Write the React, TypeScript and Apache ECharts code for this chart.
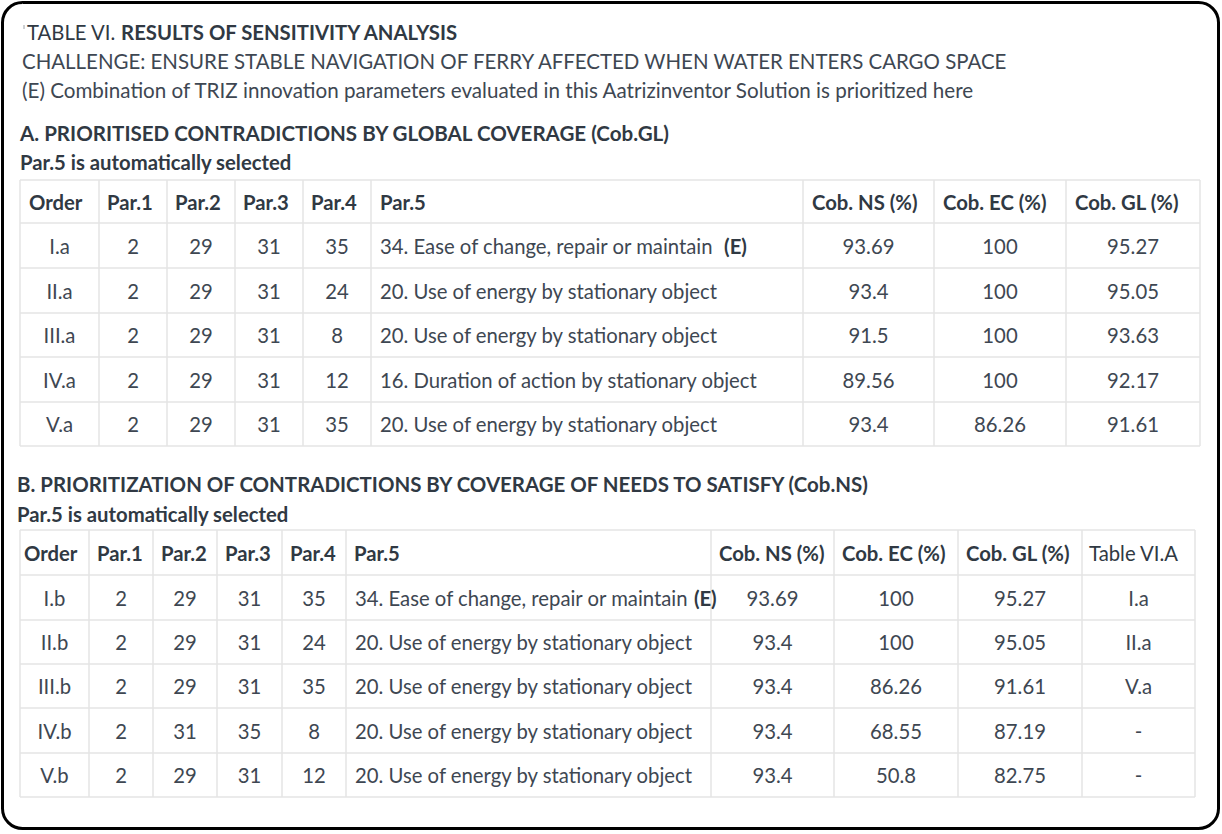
import React, { useEffect, useRef } from "react";
import * as echarts from "echarts";

// ---------- Texts ----------
const titleRegular = "TABLE VI. ";
const titleBold = "RESULTS OF SENSITIVITY ANALYSIS";
const challengeLine = "CHALLENGE: ENSURE STABLE NAVIGATION OF FERRY AFFECTED WHEN WATER ENTERS CARGO SPACE";
const noteLine = "(E) Combination of TRIZ innovation parameters evaluated in this Aatrizinventor Solution is prioritized here";
const sectionATitle = "A. PRIORITISED CONTRADICTIONS BY GLOBAL COVERAGE (Cob.GL)";
const sectionBTitle = "B. PRIORITIZATION OF CONTRADICTIONS BY COVERAGE OF NEEDS TO SATISFY (Cob.NS)";
const autoSelected = "Par.5 is automatically selected";

// ---------- Table A data ----------
const headersA = ["Order", "Par.1", "Par.2", "Par.3", "Par.4", "Par.5", "Cob. NS (%)", "Cob. EC (%)", "Cob. GL (%)"];
const orderA = ["I.a", "II.a", "III.a", "IV.a", "V.a"];
const par1A = ["2", "2", "2", "2", "2"];
const par2A = ["29", "29", "29", "29", "29"];
const par3A = ["31", "31", "31", "31", "31"];
const par4A = ["35", "24", "8", "12", "35"];
const par5A = [
  "34. Ease of change, repair or maintain",
  "20. Use of energy by stationary object",
  "20. Use of energy by stationary object",
  "16. Duration of action by stationary object",
  "20. Use of energy by stationary object",
];
const markA = [true, false, false, false, false];
const nsA = ["93.69", "93.4", "91.5", "89.56", "93.4"];
const ecA = ["100", "100", "100", "100", "86.26"];
const glA = ["95.27", "95.05", "93.63", "92.17", "91.61"];

// ---------- Table B data ----------
const headersB = ["Order", "Par.1", "Par.2", "Par.3", "Par.4", "Par.5", "Cob. NS (%)", "Cob. EC (%)", "Cob. GL (%)", "Table VI.A"];
const orderB = ["I.b", "II.b", "III.b", "IV.b", "V.b"];
const par1B = ["2", "2", "2", "2", "2"];
const par2B = ["29", "29", "29", "31", "29"];
const par3B = ["31", "31", "31", "35", "31"];
const par4B = ["35", "24", "35", "8", "12"];
const par5B = [
  "34. Ease of change, repair or maintain",
  "20. Use of energy by stationary object",
  "20. Use of energy by stationary object",
  "20. Use of energy by stationary object",
  "20. Use of energy by stationary object",
];
const markB = [true, false, false, false, false];
const nsB = ["93.69", "93.4", "93.4", "93.4", "93.4"];
const ecB = ["100", "100", "86.26", "68.55", "50.8"];
const glB = ["95.27", "95.05", "91.61", "87.19", "82.75"];
const refB = ["I.a", "II.a", "V.a", "-", "-"];

// ---------- Layout (styles only) ----------
const colEdgesA = [20, 99, 167, 235, 303, 371, 803, 934, 1066, 1200];
const rowEdgesA = [180, 223, 268, 313, 357, 402, 446];
const colEdgesB = [20, 89, 153, 217, 282, 346, 711, 834, 958, 1082, 1195];
const rowEdgesB = [530, 575, 620, 664, 708, 753, 797];

const FONT = "Lato, 'Noto Sans', sans-serif";
const FS = 20.3;
const TXT = "#3e4752";
const BOLD = "#303943";
const GRID = "#e4e4e4";

function buildTable(
  colEdges: number[],
  rowEdges: number[],
  headers: string[],
  columns: string[][],
  textCol: number,
  marks: boolean[],
  markGap: string,
  headerPads: number[],
  headerFonts: string[]
) {
  const els: any[] = [];
  const x0 = colEdges[0];
  const x1 = colEdges[colEdges.length - 1];
  const y0 = rowEdges[0];
  const y1 = rowEdges[rowEdges.length - 1];
  rowEdges.forEach((y) => {
    els.push({ type: "line", shape: { x1: x0, y1: y, x2: x1, y2: y }, style: { stroke: GRID, lineWidth: 1.5 }, silent: true });
  });
  colEdges.forEach((x) => {
    els.push({ type: "line", shape: { x1: x, y1: y0, x2: x, y2: y1 }, style: { stroke: GRID, lineWidth: 1.5 }, silent: true });
  });
  headers.forEach((h, i) => {
    const cy = (rowEdges[0] + rowEdges[1]) / 2;
    els.push({
      type: "text",
      x: colEdges[i] + headerPads[i],
      y: cy,
      style: { text: h, font: headerFonts[i], fill: BOLD, textAlign: "left", textVerticalAlign: "middle" },
    });
  });
  columns.forEach((col, ci) => {
    col.forEach((v, ri) => {
      const cy = (rowEdges[ri + 1] + rowEdges[ri + 2]) / 2;
      if (ci === textCol) {
        const isMarked = marks[ri];
        els.push({
          type: "text",
          x: colEdges[ci] + 9,
          y: cy,
          style: {
            text: isMarked ? v + markGap + "{b|(E)}" : v,
            font: `${FS}px ${FONT}`,
            fill: TXT,
            textAlign: "left",
            textVerticalAlign: "middle",
            rich: { b: { fontWeight: "bold", fontFamily: FONT, fontSize: FS, fill: BOLD, color: BOLD } },
          },
        });
      } else {
        els.push({
          type: "text",
          x: (colEdges[ci] + colEdges[ci + 1]) / 2,
          y: cy,
          style: { text: v, font: `${FS}px ${FONT}`, fill: TXT, textAlign: "center", textVerticalAlign: "middle" },
        });
      }
    });
  });
  return els;
}

export default function App() {
  const ref = useRef<HTMLDivElement>(null);
  useEffect(() => {
    if (!ref.current) return;
    const chart = echarts.init(ref.current, undefined, { renderer: "svg" });
    const elements: any[] = [];
    elements.push({
      type: "rect",
      shape: { x: 2.5, y: 2.5, width: 1216, height: 826, r: 20 },
      style: { fill: "#ffffff", stroke: "#000000", lineWidth: 3 },
      silent: true,
    });
    elements.push({ type: "line", shape: { x1: 24, y1: 25, x2: 24, y2: 29 }, style: { stroke: "#9aa0a6", lineWidth: 1 } });
    elements.push({
      type: "text",
      x: 27,
      y: 32,
      style: {
        text: titleRegular + "{b|" + titleBold + "}",
        font: `${FS}px ${FONT}`,
        fill: BOLD,
        textVerticalAlign: "middle",
        rich: { b: { fontWeight: "bold", fontSize: FS, fontFamily: FONT, fill: BOLD, color: BOLD } },
      },
    });
    elements.push({ type: "text", x: 22, y: 61, style: { text: challengeLine, font: `20.45px ${FONT}`, fill: TXT, textVerticalAlign: "middle" } });
    elements.push({ type: "text", x: 22, y: 90, style: { text: noteLine, font: `20.6px ${FONT}`, fill: TXT, textVerticalAlign: "middle" } });
    elements.push({ type: "text", x: 20, y: 133, style: { text: sectionATitle, font: `bold 20.55px ${FONT}`, fill: BOLD, textVerticalAlign: "middle" } });
    elements.push({ type: "text", x: 20, y: 162, style: { text: autoSelected, font: `bold ${FS}px ${FONT}`, fill: BOLD, textVerticalAlign: "middle" } });
    elements.push({ type: "text", x: 17, y: 484, style: { text: sectionBTitle, font: `bold 20.45px ${FONT}`, fill: BOLD, textVerticalAlign: "middle" } });
    elements.push({ type: "text", x: 17, y: 514, style: { text: autoSelected, font: `bold ${FS}px ${FONT}`, fill: BOLD, textVerticalAlign: "middle" } });

    const hb = `bold ${FS}px ${FONT}`;
    elements.push(
      ...buildTable(
        colEdgesA,
        rowEdgesA,
        headersA,
        [orderA, par1A, par2A, par3A, par4A, par5A, nsA, ecA, glA],
        5,
        markA,
        "  ",
        [9, 8, 8, 8, 8, 9, 9, 9, 9],
        headersA.map(() => hb)
      )
    );
    elements.push(
      ...buildTable(
        colEdgesB,
        rowEdgesB,
        headersB,
        [orderB, par1B, par2B, par3B, par4B, par5B, nsB, ecB, glB, refB],
        5,
        markB,
        " ",
        [4, 8, 8, 8, 8, 8, 8, 8, 8, 7],
        headersB.map((_, i) => (i === 9 ? `${FS}px ${FONT}` : hb))
      )
    );

    chart.setOption({ animation: false, graphic: { elements } });
    return () => chart.dispose();
  }, []);
  return <div ref={ref} style={{ position: "fixed", left: 0, top: 0, width: 1222, height: 834, background: "#fff" }} />;
}
